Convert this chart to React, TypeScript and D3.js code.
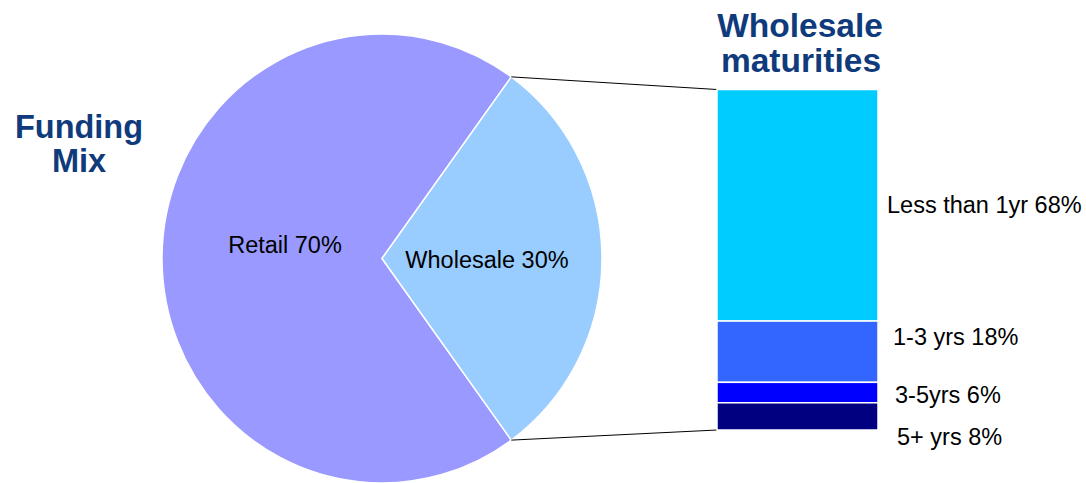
import React from "react";
import * as d3 from "d3";

const mixCategories = ["Retail", "Wholesale"];
const mixValues = [70, 30];
const mixColors = ["#9999FF", "#99CCFF"];

const maturityCategories = ["Less than 1yr", "1-3 yrs", "3-5yrs", "5+ yrs"];
const maturityValues = [68, 18, 6, 8];
const maturityColors = ["#00CCFF", "#3366FF", "#0000FF", "#000080"];

// label layout nudges (px) relative to computed anchor
const mixLabelNudge = [
  { dx: 3, dy: -14 },
  { dx: 5, dy: 1 },
];
const maturityLabelNudge = [
  { dx: 0, dy: 0 },
  { dx: 6, dy: -15 },
  { dx: 8, dy: 2 },
  { dx: 10, dy: 21 },
];

const W = 1086;
const H = 483;
const TITLE = "#0F3A7C";
const FONT = "'Liberation Sans', Arial, sans-serif";
const LABEL_SIZE = 23.5;

export default function App() {
  const cx = 382;
  const cy = 258.5;
  const rx = 220;
  const ry = 224.5;
  const deg = Math.PI / 180;

  const pie = d3
    .pie<number>()
    .sort(null)
    .value((d) => d)
    .startAngle(144 * deg)
    .endAngle(504 * deg);
  const arcs = pie(mixValues);
  const arc = d3.arc<d3.PieArcDatum<number>>().innerRadius(0).outerRadius(rx);

  const wholesale = arcs[1];
  const ptAt = (a: number) => [cx + rx * Math.sin(a), cy - ry * Math.cos(a)];
  const pTop = ptAt(wholesale.startAngle);
  const pBot = ptAt(wholesale.endAngle);

  const barX0 = 717;
  const barX1 = 878;
  const y = d3.scaleLinear().domain([0, d3.sum(maturityValues)]).range([89.5, 430]);
  const stacks: { y0: number; y1: number }[] = [];
  let acc = 0;
  maturityValues.forEach((v) => {
    stacks.push({ y0: y(acc), y1: y(acc + v) });
    acc += v;
  });

  return (
    <svg width={W} height={H} style={{ display: "block", position: "absolute", left: 0, top: 0 }}>
      <rect width={W} height={H} fill="#fff" />
      {/* Titles */}
      <text x={79} y={138} textAnchor="middle" fontFamily={FONT} fontWeight="bold" fontSize={32.5} fill={TITLE}>
        Funding
      </text>
      <text x={79} y={172} textAnchor="middle" fontFamily={FONT} fontWeight="bold" fontSize={32.5} fill={TITLE}>
        Mix
      </text>
      <text x={800} y={37} textAnchor="middle" fontFamily={FONT} fontWeight="bold" fontSize={33.5} fill={TITLE}>
        Wholesale
      </text>
      <text x={801} y={72} textAnchor="middle" fontFamily={FONT} fontWeight="bold" fontSize={33.5} fill={TITLE}>
        maturities
      </text>

      {/* Pie */}
      <g transform={`translate(${cx},${cy}) scale(1,${ry / rx})`}>
        {arcs.map((a, i) => (
          <path key={mixCategories[i]} d={arc(a) || ""} fill={mixColors[i]} stroke="#fff" strokeWidth={1.5} />
        ))}
      </g>
      {arcs.map((a, i) => {
        const mid = (a.startAngle + a.endAngle) / 2;
        const r = 100;
        const lx = cx + r * Math.sin(mid) + mixLabelNudge[i].dx;
        const ly = cy - r * Math.cos(mid) + mixLabelNudge[i].dy;
        return (
          <text key={"l" + i} x={lx} y={ly} textAnchor="middle" dominantBaseline="central" fontFamily={FONT} fontSize={LABEL_SIZE} fill="#000">
            {`${mixCategories[i]} ${mixValues[i]}%`}
          </text>
        );
      })}

      {/* connectors */}
      <line x1={pTop[0]} y1={pTop[1]} x2={barX0} y2={y.range()[0]} stroke="#000" strokeWidth={1} />
      <line x1={pBot[0]} y1={pBot[1]} x2={barX0} y2={y.range()[1]} stroke="#000" strokeWidth={1} />

      {/* stacked bar */}
      {stacks.map((s, i) => (
        <rect
          key={maturityCategories[i]}
          x={barX0}
          y={s.y0}
          width={barX1 - barX0}
          height={s.y1 - s.y0}
          fill={maturityColors[i]}
          stroke="#fff"
          strokeWidth={1.5}
        />
      ))}
      {stacks.map((s, i) => (
        <text
          key={"t" + i}
          x={barX1 + 9 + maturityLabelNudge[i].dx}
          y={(s.y0 + s.y1) / 2 + maturityLabelNudge[i].dy}
          dominantBaseline="central"
          fontFamily={FONT}
          fontSize={LABEL_SIZE}
          fill="#000"
        >
          {`${maturityCategories[i]} ${maturityValues[i]}%`}
        </text>
      ))}
    </svg>
  );
}
